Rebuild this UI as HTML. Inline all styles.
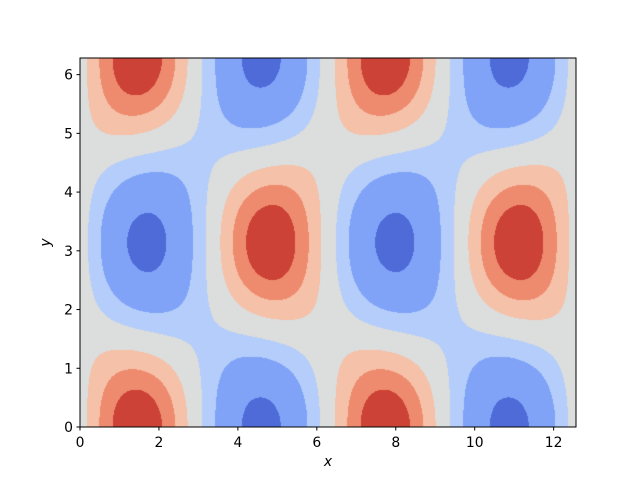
<!DOCTYPE html>
<html><head><meta charset="utf-8"><style>
body{margin:0;background:#fff;}
#wrap{position:relative;width:640px;height:480px;font-family:"DejaVu Sans","Liberation Sans",sans-serif;}
canvas{position:absolute;left:80px;top:58px;}
svg{position:absolute;left:0;top:0;}
</style></head><body>
<div id="wrap">
<canvas id="cv" width="496" height="369"></canvas>
<svg id="sv" width="640" height="480"></svg>
</div>
<script>
const levels=[-0.88,-0.39,-0.08,0.29,0.57,0.81];
const bandColors=["#4e6bd8","#80a3f8","#b4cdfa","#dcdddd","#f5c1a8","#ee8b6f","#cd4236"];
const xTicks=[0,2,4,6,8,10,12];
const yTicks=[0,1,2,3,4,5,6];
const phaseShift=[0.12];
const saddleTerm=[0.15];
const xMax=4*Math.PI, yMax=2*Math.PI;
const L=80,T=58,W=496,H=369;
const sx=v=>L+v/xMax*W, sy=v=>T+H-v/yMax*H;
function hex(c){return [1,3,5].map(i=>parseInt(c.substr(i,2),16));}
const rgb=bandColors.map(hex);
const cv=document.getElementById('cv'),ctx=cv.getContext('2d');
const img=ctx.createImageData(W,H);
const a=phaseShift[0], b=saddleTerm[0];
for(let j=0;j<H;j++){const y=(H-j-0.5)/H*yMax;const cy=Math.cos(y),sy2=Math.sin(y)**2;for(let i=0;i<W;i++){const x=(i+0.5)/W*xMax;
const z=Math.sin(x+a*cy)*cy+b*Math.cos(x)*sy2;let k2=0;while(k2<levels.length&&z>levels[k2])k2++;
const c=rgb[k2],k=(j*W+i)*4;img.data[k]=c[0];img.data[k+1]=c[1];img.data[k+2]=c[2];img.data[k+3]=255;}}
ctx.putImageData(img,0,0);
const sv=document.getElementById('sv');const NS="http://www.w3.org/2000/svg";
function el(t,at,txt){const e=document.createElementNS(NS,t);for(const k in at)e.setAttribute(k,at[k]);if(txt!==undefined)e.textContent=txt;sv.appendChild(e);return e;}
const fr=el('rect',{x:L,y:T,width:W,height:H,fill:'none',stroke:'#000','stroke-width':1});


xTicks.forEach(v=>{const x=sx(v);
const t=el('line',{x1:x,x2:x,y1:T+H,y2:T+H+3.5,stroke:'#000'});


const l=el('text',{x:x,y:447,'font-size':13.9,'text-anchor':'middle'},String(v));

});
yTicks.forEach(v=>{const y=sy(v);
const t=el('line',{x1:L-3.5,x2:L,y1:y,y2:y,stroke:'#000'});


const l=el('text',{x:L-7,y:y+5,'font-size':13.9,'text-anchor':'end'},String(v));

});
const xt=el('text',{x:L+W/2,y:466,'font-size':13.9,'font-style':'italic','text-anchor':'middle'},'x');


const yt=el('text',{x:50,y:T+H/2,'font-size':13.9,'font-style':'italic','text-anchor':'middle',transform:'rotate(-90 50 '+(T+H/2)+')'},'y');


</script>
</body></html>
